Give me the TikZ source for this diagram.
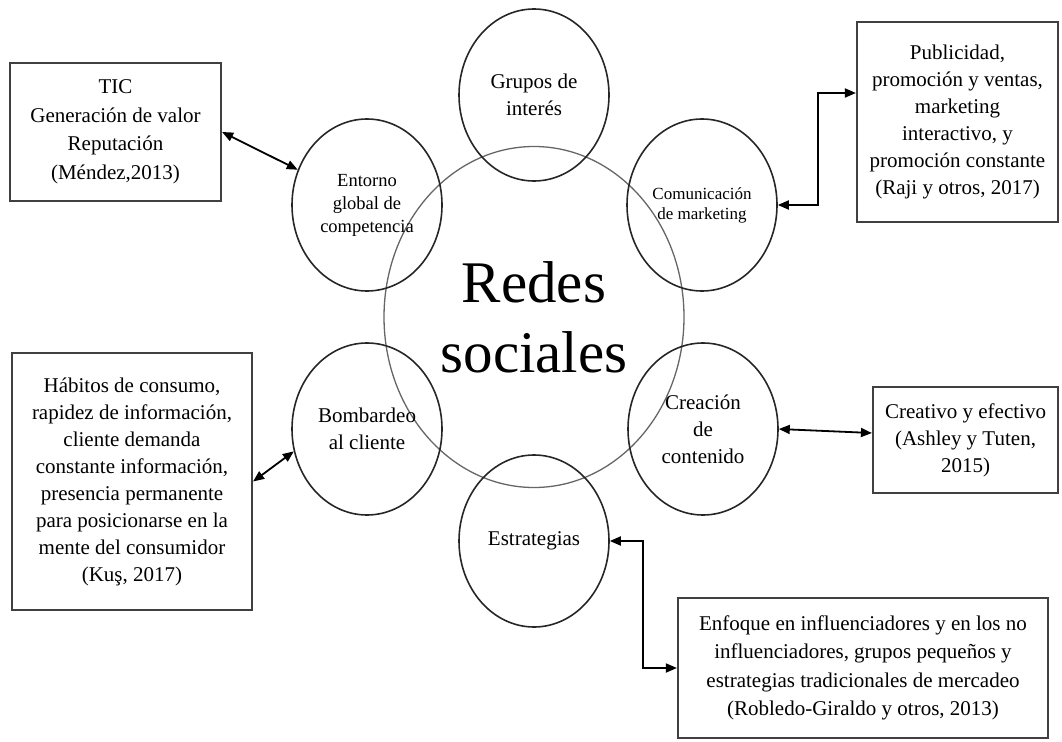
\documentclass[tikz,border=0pt]{standalone}
\usepackage{fontspec}
\setmainfont{Liberation Serif}
\usetikzlibrary{shapes.geometric,arrows.meta}
\begin{document}
\begin{tikzpicture}[x=1pt,y=-1pt,
  circ/.style={draw=black!85, ellipse, line width=1.6pt, minimum width=150pt, minimum height=172pt, inner sep=0pt, align=center, font=\fontsize{21}{27}\selectfont},
  bigell/.style={draw=black!60, ellipse, line width=1.3pt, minimum width=300pt, minimum height=341pt, inner sep=0pt, align=center, font=\fontsize{59}{70}\selectfont},
  box/.style={draw=black!75, rectangle, line width=2.2pt, inner sep=0pt, align=center, font=\fontsize{21}{27}\selectfont},
  link/.style={{Triangle[length=11pt,width=9pt]}-{Triangle[length=11pt,width=9pt]}, line width=1.8pt}]
\useasboundingbox (0,0) rectangle (1062,741);
% central ellipse
\node[bigell] (rs) at (534,317) {Redes\\sociales};
% surrounding circles
\node[circ] (gru) at (534,95) {Grupos de\\interés};
\node[circ, font=\fontsize{18.5}{23}\selectfont] (ent) at (367,205) {Entorno\\global de\\competencia};
\node[circ, font=\fontsize{17}{20}\selectfont] (com) at (702,205) {Comunicación\\de marketing};
\node[circ] (bom) at (367,429) {Bombardeo\\al cliente};
\node[circ] (cre) at (703,429) {Creación\\de\\contenido};
\node[circ] (est) at (534,541) {Estrategias};
% boxes
\node[box, minimum width=211pt, minimum height=138pt, font=\fontsize{21}{28.5}\selectfont] (tic) at (115.5,132) {TIC\\Generación de valor\\Reputación\\(Méndez,2013)};
\node[box, minimum width=201pt, minimum height=200pt] (pub) at (957.5,122) {Publicidad,\\promoción y ventas,\\marketing\\interactivo, y\\promoción constante\\(Raji y otros, 2017)};
\node[box, minimum width=240pt, minimum height=257pt] (hab) at (132,481.5) {Hábitos de consumo,\\rapidez de información,\\cliente demanda\\constante información,\\presencia permanente\\para posicionarse en la\\mente del consumidor\\(Kuş, 2017)};
\node[box, minimum width=185pt, minimum height=106pt] (crv) at (965.5,440) {Creativo y efectivo\\(Ashley y Tuten,\\2015)};
\node[box, minimum width=370pt, minimum height=140pt, font=\fontsize{21}{28.5}\selectfont] (enf) at (863,668) {Enfoque en influenciadores y en los no\\influenciadores, grupos pequeños y\\estrategias tradicionales de mercadeo\\(Robledo-Giraldo y otros, 2013)};
% connectors
\draw[link] (tic.east) -- (ent.153);
\draw[link] (com.east) -- ++(40,0) |- ([yshift=29pt]pub.west);
\draw[link] (hab.east) -- (bom.197);
\draw[link] (cre.east) -- ([yshift=7pt]crv.west);
\draw[link] (est.east) -- ++(33,0) |- (enf.west);
\end{tikzpicture}
\end{document}
